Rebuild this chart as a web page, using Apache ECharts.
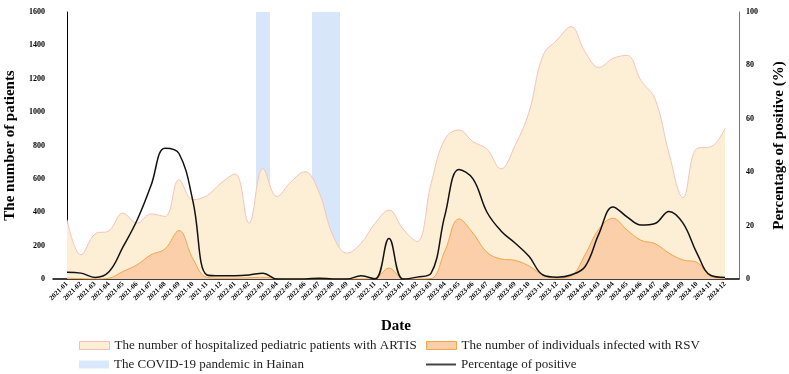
<!DOCTYPE html>
<html>
<head>
<meta charset="utf-8">
<script src="https://cdn.jsdelivr.net/npm/echarts@6/dist/echarts.min.js"></script>
<style>
html, body { margin: 0; padding: 0; background: #fff; }
#chart { width: 789px; height: 374px; }
</style>
</head>
<body>
<div id="chart"></div>
<script>
var months = [
	'2021-01','2021-02','2021-03','2021-04','2021-05','2021-06','2021-07','2021-08','2021-09','2021-10','2021-11','2021-12',
	'2022-01','2022-02','2022-03','2022-04','2022-05','2022-06','2022-07','2022-08','2022-09','2022-10','2022-11','2022-12',
	'2023-01','2023-02','2023-03','2023-04','2023-05','2023-06','2023-07','2023-08','2023-09','2023-10','2023-11','2023-12',
	'2024-01','2024-02','2024-03','2024-04','2024-05','2024-06','2024-07','2024-08','2024-09','2024-10','2024-11','2024-12'
];
// 住院ARTIS患儿数
var artis = [
	355, 145, 270, 290, 395, 335, 390, 375, 595, 475, 500, 575,
	630, 335, 662, 495, 583, 643, 520, 260, 155, 214, 334, 413,
	300, 225, 570, 840, 893, 823, 778, 660, 800, 1000, 1340, 1432,
	1512, 1362, 1268, 1322, 1340, 1190, 1080, 753, 488, 783, 793, 903
];
// RSV感染人数
var rsv = [
	5, 2, 0, 5, 45, 85, 145, 180, 290, 120, 10, 5,
	5, 8, 10, 2, 0, 0, 0, 0, 0, 0, 5, 65,
	3, 0, 3, 170, 360, 275, 160, 120, 112, 78, 24, 5,
	18, 145, 300, 364, 294, 232, 212, 155, 114, 100, 15, 3
];
// 阳性率 (%)
var positive = [
	2.5, 2.2, 0.6, 2.7, 12, 22, 35, 49, 47, 29, 1.5, 1.2,
	1.2, 1.5, 2.2, 0, 0, 0, 0.3, 0, 0, 1.2, 0, 15.2,
	0, 0.7, 2.1, 24, 41, 37.5, 25, 18, 13.5, 8.5, 1.5, 0.7,
	1.5, 4.6, 17, 27, 23.3, 20.2, 20.8, 25.3, 20.9, 9.6, 1.3, 0.6
];
// 海南新冠疫情时段
var covidPeriods = [['2022-03', '2022-03'], ['2022-07', '2022-08']];

var serif = '"Times New Roman", "Liberation Serif", serif';
var nameArtis = 'The number of hospitalized pediatric patients with ARTIS';
var nameRsv = 'The number of individuals infected with RSV';
var nameCovid = 'The COVID-19 pandemic in Hainan';
var namePos = 'Percentage of positive';

function pairs(arr) {
	return arr.map(function (v, i) { return [i, v]; });
}

var bands = covidPeriods.map(function (p) {
	return [{ xAxis: months.indexOf(p[0]) - 0.5 }, { xAxis: months.indexOf(p[1]) + 0.5 }];
});

function legendAt(left, top, item, h) {
	return {
		left: left, top: top, orient: 'horizontal',
		itemWidth: 30, itemHeight: h || 8, itemGap: 0, padding: 0,
		textStyle: { fontFamily: serif, fontSize: 13, color: '#222' },
		data: [item]
	};
}

var chart = echarts.init(document.getElementById('chart'));
var option = {
	animation: false,
	grid: { left: 53, right: 50, top: 12, bottom: 95, outerBoundsMode: 'none' },
	legend: [
		legendAt(79, 339, { name: nameArtis, icon: 'rect', itemStyle: { color: '#fdeed6', borderColor: '#f7bcb4', borderWidth: 1 } }),
		legendAt(79, 358, { name: nameCovid, icon: 'rect', itemStyle: { color: '#dae8fb', borderWidth: 0 } }),
		legendAt(426, 339, { name: nameRsv, icon: 'rect', itemStyle: { color: '#fbcfa9', borderColor: '#f5a54a', borderWidth: 1 } }),
		legendAt(426, 358, { name: namePos, icon: 'rect', itemStyle: { color: '#444', borderWidth: 0 } }, 2)
	],
	xAxis: {
		type: 'value',
		min: -1, max: 48, interval: 1,
		name: 'Date',
		nameLocation: 'middle',
		nameGap: 40,
		nameTextStyle: { fontFamily: serif, fontSize: 15, fontWeight: 'bold', color: '#000' },
		axisLine: { lineStyle: { color: '#000', width: 1.5 } },
		axisTick: { show: false },
		splitLine: { show: false },
		axisLabel: {
			rotate: 45, fontFamily: serif, fontSize: 7, fontWeight: 'bold', color: '#000', margin: 4,
			formatter: function (v) { return months[v] || ''; }
		}
	},
	yAxis: [
		{
			type: 'value', min: 0, max: 1600, interval: 200,
			name: 'The number of patients',
			nameLocation: 'middle', nameGap: 33,
			nameTextStyle: { fontFamily: serif, fontSize: 15, fontWeight: 'bold', color: '#000' },
			axisLine: { show: true, lineStyle: { color: '#000', width: 1 } },
			axisTick: { show: false },
			splitLine: { show: false },
			axisLabel: {
				fontFamily: serif, fontSize: 8, fontWeight: 'bold', color: '#000', margin: 8,
				formatter: function (v) { return String(v); }
			}
		},
		{
			type: 'value', min: 0, max: 100, interval: 20,
			name: 'Percentage of positive (%)',
			nameLocation: 'middle', nameGap: 33,
			nameTextStyle: { fontFamily: serif, fontSize: 15, fontWeight: 'bold', color: '#000' },
			axisLine: { show: true, lineStyle: { color: '#777', width: 1 } },
			axisTick: { show: false },
			splitLine: { show: false },
			axisLabel: {
				fontFamily: serif, fontSize: 8, fontWeight: 'bold', color: '#000', margin: 7,
				formatter: function (v) { return String(v); }
			}
		}
	],
	series: [
		{
			name: nameArtis, type: 'line', smooth: 0.4, symbol: 'none', z: 1,
			lineStyle: { color: '#f7c2bb', width: 1 },
			itemStyle: { color: '#fdeed6' },
			areaStyle: { color: '#fdeed6', opacity: 1 },
			data: pairs(artis)
		},
		{
			name: nameRsv, type: 'line', smooth: 0.4, symbol: 'none', z: 2,
			lineStyle: { color: '#f5a54a', width: 1 },
			itemStyle: { color: '#fbcfa9' },
			areaStyle: { color: '#fbcfa9', opacity: 1 },
			data: pairs(rsv)
		},
		{
			name: nameCovid, type: 'line', symbol: 'none', z: 3,
			itemStyle: { color: '#dae8fb' },
			data: [],
			markArea: {
				silent: true,
				itemStyle: { color: 'rgba(200,220,246,0.72)' },
				data: bands
			}
		},
		{
			name: namePos, type: 'line', yAxisIndex: 1, smooth: 0.4, symbol: 'none', z: 4,
			lineStyle: { color: '#111', width: 1.5 },
			itemStyle: { color: '#333' },
			data: pairs(positive)
		}
	]
};
chart.setOption(option);
</script>
</body>
</html>
